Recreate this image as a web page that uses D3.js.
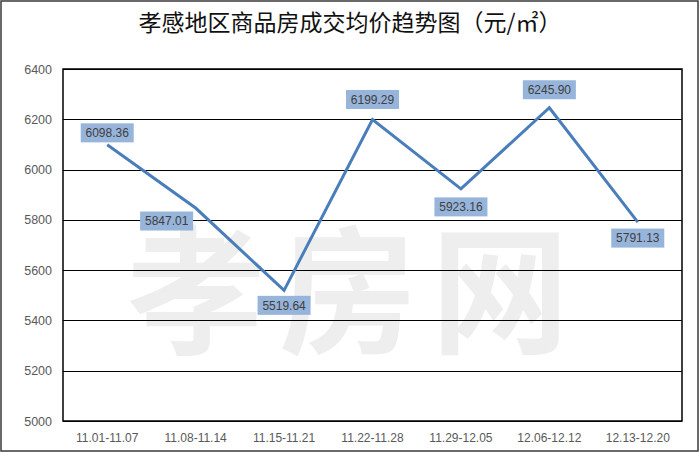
<!DOCTYPE html>
<html>
<head>
<meta charset="utf-8">
<script src="https://cdn.jsdelivr.net/npm/d3@7"></script>
<style>
  body { margin: 0; background: #fff; }
  svg { display: block; }
</style>
</head>
<body>
<svg id="chart"></svg>
<script>
// data
let weeks = ["11.01-11.07", "11.08-11.14", "11.15-11.21", "11.22-11.28", "11.29-12.05", "12.06-12.12", "12.13-12.20"];
let prices = [6098.36, 5847.01, 5519.64, 6199.29, 5923.16, 6245.90, 5791.13];
let yTicks = [5000, 5200, 5400, 5600, 5800, 6000, 6200, 6400];
// label offsets (dx, dy) from each point, as placed in the original
let labelShift = [[0, -12], [-29, 13], [0, 15], [0, -20], [0, 18], [0, -18], [0, 16]];

let width = 700, height = 453;
let margin = { top: 69, right: 18, bottom: 32, left: 63 };

let svg = d3.select("#chart")
    .attr("width", width)
    .attr("height", height);

let x = d3.scaleBand()
    .domain(weeks)
    .range([margin.left, width - margin.right]);

let y = d3.scaleLinear()
    .domain([5000, 6400])
    .range([height - margin.bottom, margin.top]);

// outer frame
svg.append("rect")
    .attr("x", 1).attr("y", 1)
    .attr("width", width - 3).attr("height", height - 3)
    .attr("fill", "#fff")
    .attr("stroke", "#3a3a3a")
    .attr("stroke-width", 1.5);

// watermark
svg.append("text")
    .attr("x", 355)
    .attr("y", 342)
    .attr("text-anchor", "middle")
    .attr("font-family", "Noto Sans CJK SC")
    .attr("font-weight", "bold")
    .attr("font-size", 138)
    .attr("letter-spacing", 14)
    .attr("fill", "#eeeeee")
    .text("孝房网");

svg.append("text")
    .attr("x", width / 2)
    .attr("y", 31)
    .attr("text-anchor", "middle")
    .attr("font-family", "Noto Sans CJK SC")
    .attr("font-size", 23)
    .attr("fill", "#111")
    .text("孝感地区商品房成交均价趋势图（元/㎡）");

// gridlines
svg.append("g")
    .selectAll("line")
    .data(yTicks)
    .enter()
    .append("line")
    .attr("x1", margin.left)
    .attr("x2", width - margin.right)
    .attr("y1", d => Math.round(y(d)) + 0.5)
    .attr("y2", d => Math.round(y(d)) + 0.5)
    .attr("stroke", "#000")
    .attr("stroke-width", 1);

// plot frame
svg.append("rect")
    .attr("x", margin.left)
    .attr("y", margin.top)
    .attr("width", width - margin.right - margin.left)
    .attr("height", height - margin.bottom - margin.top)
    .attr("fill", "none")
    .attr("stroke", "#000")
    .attr("stroke-width", 1.5);

let yAxis = d3.axisLeft(y).tickValues(yTicks).tickFormat(d3.format("d")).tickSize(0).tickPadding(11);
svg.append("g")
    .attr("transform", "translate(" + margin.left + ",0)")
    .call(yAxis)
    .call(g => g.select(".domain").remove())
    .selectAll("text")
    .attr("font-family", "Liberation Sans")
    .attr("font-size", 12.5)
    .attr("fill", "#595959");

let xAxis = d3.axisBottom(x).tickSize(0).tickPadding(12);
svg.append("g")
    .attr("transform", "translate(0," + (height - margin.bottom) + ")")
    .call(xAxis)
    .call(g => g.select(".domain").remove())
    .selectAll("text")
    .attr("font-family", "Liberation Sans")
    .attr("font-size", 12)
    .attr("fill", "#595959");

let line = d3.line()
    .x((d, i) => x(weeks[i]) + x.bandwidth() / 2)
    .y(d => y(d));

svg.append("path")
    .datum(prices)
    .attr("d", line)
    .attr("fill", "none")
    .attr("stroke", "#4a7ebb")
    .attr("stroke-width", 3)
    .attr("stroke-linejoin", "miter");

// data labels
let labels = svg.append("g")
    .selectAll("g")
    .data(prices)
    .enter()
    .append("g")
    .attr("transform", (d, i) => "translate(" + (x(weeks[i]) + x.bandwidth() / 2 + labelShift[i][0]) + "," + (y(d) + labelShift[i][1]) + ")");

labels.append("rect")
    .attr("x", -26.5)
    .attr("y", -9.5)
    .attr("width", 53)
    .attr("height", 19)
    .attr("fill", "#97b4da");

labels.append("text")
    .attr("text-anchor", "middle")
    .attr("dy", "0.36em")
    .attr("font-family", "Liberation Sans")
    .attr("font-size", 12)
    .attr("fill", "#404040")
    .text(d => d.toFixed(2));
</script>
</body>
</html>
